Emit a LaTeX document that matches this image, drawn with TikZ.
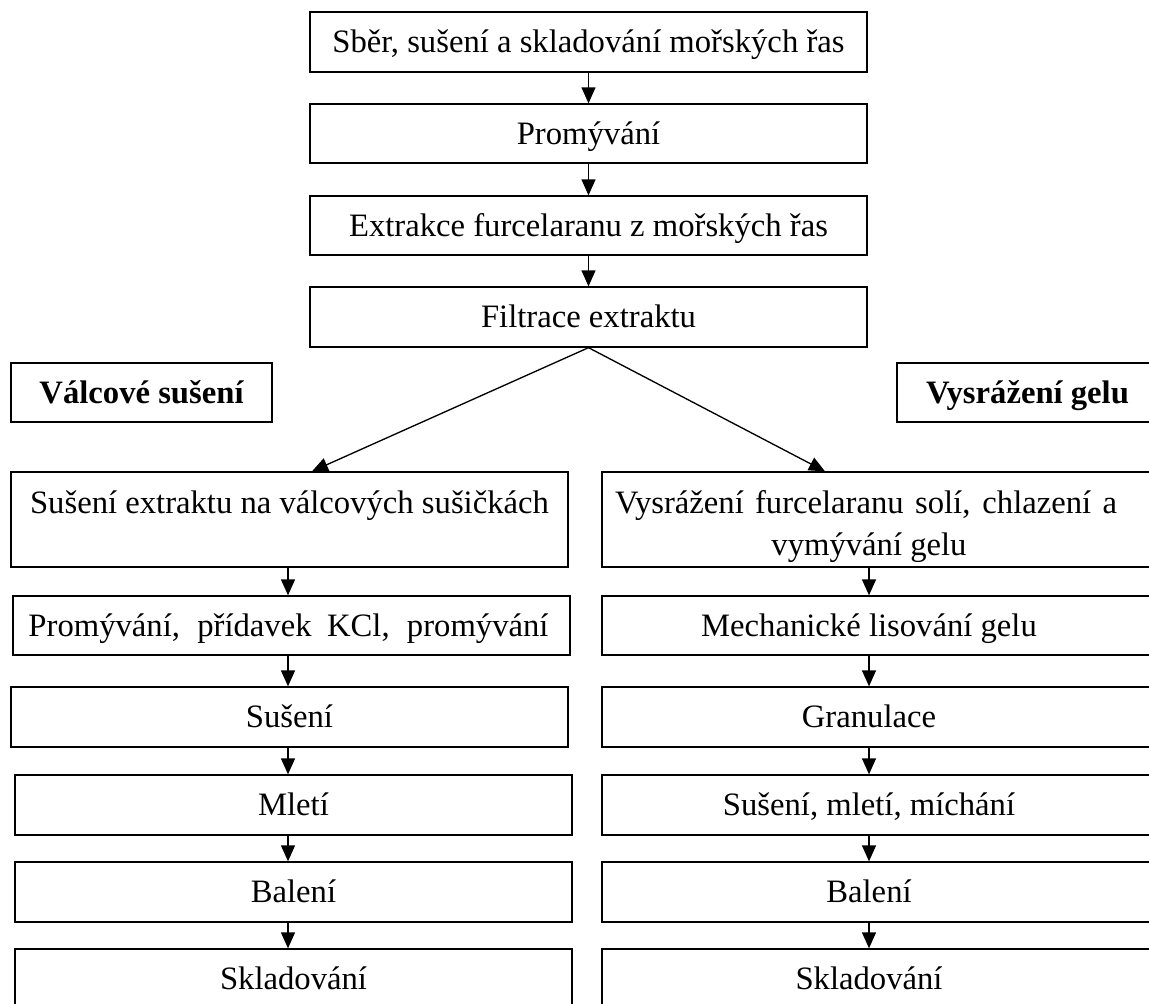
\documentclass[tikz,border=0pt]{standalone}
\usepackage{fontspec}
\setmainfont{Liberation Serif}
\usetikzlibrary{arrows.meta}
\begin{document}
\begin{tikzpicture}[x=0.75pt,y=-0.75pt,
  fnt/.style={font=\fontsize{24.5}{31.5}\selectfont},
  box/.style={draw,line width=1pt,inner sep=0pt,fnt,text height=16.2pt,text depth=0pt},
  txt/.style={inner sep=0pt,fnt,text height=16.2pt,text depth=0pt},
  arr/.style={line width=1pt,-{Triangle[length=12pt,width=10.5pt]}}]
\useasboundingbox (0,0) rectangle (1149,1003);
\clip (0,0) rectangle (1149,1003);
% top column
\node[box,minimum width={557*0.75pt},minimum height={60*0.75pt}] (t1) at (588.5,42) {Sběr, sušení a skladování mořských řas};
\node[box,minimum width={557*0.75pt},minimum height={59*0.75pt}] (t2) at (588.5,133.5) {Promývání};
\node[box,minimum width={557*0.75pt},minimum height={59*0.75pt}] (t3) at (588.5,225.5) {Extrakce furcelaranu z mořských řas};
\node[box,minimum width={557*0.75pt},minimum height={60*0.75pt}] (t4) at (588.5,317) {Filtrace extraktu};
% headings
\node[box,minimum width={261*0.75pt},minimum height={59*0.75pt},font=\fontsize{24.5}{31.5}\selectfont\bfseries] (vs) at (141.5,392.5) {Válcové sušení};
\node[box,minimum width={261*0.75pt},minimum height={59*0.75pt},font=\fontsize{24.5}{31.5}\selectfont\bfseries] (vg) at (1027.5,392.5) {Vysrážení gelu};
% left column
\node[box,minimum width={557*0.75pt},minimum height={95*0.75pt}] (L1) at (289.5,519.5) {};
\node[txt] (L1t) at (289.5,503) {Sušení extraktu na válcových sušičkách};
\node[box,minimum width={557*0.75pt},minimum height={59*0.75pt}] (L2) at (291.5,625.5) {};
\node[txt] (L2t) at (288.5,625.5) {\makebox[390pt][s]{Promývání, přídavek KCl, promývání}};
\node[box,minimum width={557*0.75pt},minimum height={60*0.75pt}] (L3) at (289.5,717) {Sušení};
\node[box,minimum width={557*0.75pt},minimum height={60*0.75pt}] (L4) at (293.5,805) {Mletí};
\node[box,minimum width={557*0.75pt},minimum height={60*0.75pt}] (L5) at (293.5,892) {Balení};
\node[box,minimum width={557*0.75pt},minimum height={60*0.75pt}] (L6) at (293.5,979) {Skladování};
% right column
\node[box,minimum width={557*0.75pt},minimum height={95*0.75pt}] (R1) at (880.5,519.5) {};
\node[txt] (R1a) at (866,503) {\makebox[376.5pt][s]{Vysrážení furcelaranu solí, chlazení a}};
\node[txt] (R1b) at (869,545) {vymývání gelu};
\node[box,minimum width={557*0.75pt},minimum height={59*0.75pt}] (R2) at (880.5,625.5) {};
\node[txt] (R2t) at (869,625.5) {Mechanické lisování gelu};
\node[box,minimum width={557*0.75pt},minimum height={60*0.75pt}] (R3) at (880.5,717) {};
\node[txt] (R3t) at (869,717) {Granulace};
\node[box,minimum width={557*0.75pt},minimum height={60*0.75pt}] (R4) at (880.5,805) {};
\node[txt] (R4t) at (869,805) {Sušení, mletí, míchání};
\node[box,minimum width={557*0.75pt},minimum height={60*0.75pt}] (R5) at (880.5,892) {};
\node[txt] (R5t) at (869,892) {Balení};
\node[box,minimum width={557*0.75pt},minimum height={60*0.75pt}] (R6) at (880.5,979) {};
\node[txt] (R6t) at (869,979) {Skladování};
% arrow x positions
\coordinate (la) at (288,0);
\coordinate (ra) at (869,0);
\coordinate (dl) at (312,0);
\coordinate (dr) at (825,0);
% top arrows
\draw[arr] (t1) -- (t2);
\draw[arr] (t2) -- (t3);
\draw[arr] (t3) -- (t4);
% split
\draw[arr] (t4.south) -- (L1.north -| dl);
\draw[arr] (t4.south) -- (R1.north -| dr);
% left column arrows
\draw[arr] (L1.south -| la) -- (L2.north -| la);
\draw[arr] (L2.south -| la) -- (L3.north -| la);
\draw[arr] (L3.south -| la) -- (L4.north -| la);
\draw[arr] (L4.south -| la) -- (L5.north -| la);
\draw[arr] (L5.south -| la) -- (L6.north -| la);
% right column arrows
\draw[arr] (R1.south -| ra) -- (R2.north -| ra);
\draw[arr] (R2.south -| ra) -- (R3.north -| ra);
\draw[arr] (R3.south -| ra) -- (R4.north -| ra);
\draw[arr] (R4.south -| ra) -- (R5.north -| ra);
\draw[arr] (R5.south -| ra) -- (R6.north -| ra);
\end{tikzpicture}
\end{document}
